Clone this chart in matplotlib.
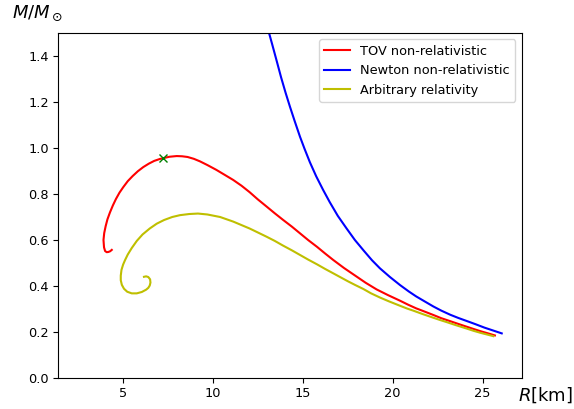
import matplotlib
matplotlib.use("Agg")
import matplotlib.pyplot as plt

# ---------------------------------------------------
# Mass-radius curves (R in km, M in solar masses)
# ---------------------------------------------------

tov_r = [4.39, 4.30, 4.20, 4.11, 4.02, 3.96, 3.93, 3.97, 4.05, 4.15, 4.29,
         4.45, 4.62, 4.82, 5.03, 5.28, 5.55, 5.84, 6.14, 6.45, 6.75, 7.05,
         7.26, 7.60, 8.00, 8.30, 8.60, 8.95, 9.29, 9.70, 10.20, 10.65, 11.14,
         11.60, 12.05, 12.50, 13.00, 13.45, 13.90, 14.40, 14.85, 15.30, 15.80,
         16.25, 16.70, 17.30, 17.90, 18.50, 19.11, 19.75, 20.41, 20.85, 21.30,
         21.80, 22.26, 22.70, 23.20, 23.65, 24.11, 24.50, 24.90, 25.30, 25.68]
tov_m = [0.557, 0.551, 0.548, 0.547, 0.552, 0.568, 0.600, 0.630, 0.660, 0.690,
         0.720, 0.750, 0.778, 0.806, 0.830, 0.856, 0.878, 0.899, 0.917, 0.932,
         0.944, 0.952, 0.956, 0.962, 0.965, 0.964, 0.961, 0.953, 0.942, 0.926,
         0.905, 0.884, 0.861, 0.836, 0.808, 0.777, 0.745, 0.716, 0.688, 0.658,
         0.629, 0.600, 0.570, 0.541, 0.513, 0.478, 0.446, 0.414, 0.385, 0.360,
         0.336, 0.319, 0.303, 0.288, 0.274, 0.260, 0.247, 0.235, 0.223, 0.213,
         0.203, 0.194, 0.185]

newton_r = [13.05, 13.13, 13.30, 13.56, 13.80, 14.05, 14.29, 14.55, 14.85,
            15.10, 15.40, 15.75, 16.14, 16.50, 16.95, 17.44, 17.90, 18.40,
            18.85, 19.29, 19.85, 20.41, 20.90, 21.30, 21.80, 22.26, 22.70,
            23.20, 23.65, 24.11, 24.60, 25.10, 25.60, 26.06]
newton_m = [1.535, 1.500, 1.452, 1.377, 1.307, 1.240, 1.180, 1.118, 1.049,
            0.997, 0.938, 0.877, 0.817, 0.765, 0.705, 0.650, 0.600, 0.553,
            0.512, 0.477, 0.439, 0.404, 0.376, 0.355, 0.332, 0.311, 0.293,
            0.275, 0.261, 0.248, 0.234, 0.219, 0.206, 0.194]

arb_r = [6.18, 6.30, 6.42, 6.52, 6.54, 6.50, 6.42, 6.30, 6.06, 5.78, 5.50,
         5.25, 5.07, 4.95, 4.89, 4.89, 4.93, 5.02, 5.13, 5.28, 5.50, 5.78,
         6.10, 6.50, 6.89, 7.30, 7.75, 8.18, 8.70, 9.18, 9.70, 10.41, 11.14,
         12.05, 12.50, 13.00, 13.45, 13.90, 14.40, 14.85, 15.30, 15.80, 16.25,
         16.70, 17.10, 17.50, 17.90, 18.37, 18.80, 19.29, 19.80, 20.41, 20.80,
         21.14, 21.70, 22.26, 22.60, 23.00, 23.50, 24.11, 24.50, 24.90, 25.25,
         25.59]
arb_m = [0.440, 0.442, 0.439, 0.429, 0.415, 0.402, 0.392, 0.384, 0.374, 0.368,
         0.368, 0.375, 0.388, 0.405, 0.425, 0.445, 0.470, 0.493, 0.513, 0.537,
         0.565, 0.596, 0.624, 0.650, 0.671, 0.687, 0.700, 0.708, 0.713, 0.715,
         0.711, 0.700, 0.680, 0.650, 0.633, 0.614, 0.596, 0.576, 0.555, 0.535,
         0.515, 0.494, 0.474, 0.455, 0.438, 0.421, 0.405, 0.387, 0.368, 0.350,
         0.333, 0.314, 0.302, 0.293, 0.277, 0.262, 0.253, 0.243, 0.230, 0.215,
         0.205, 0.196, 0.189, 0.182]

# most massive stable TOV configuration
max_r = 7.26
max_m = 0.955

# ---------------------------------------------------
# Plot
# ---------------------------------------------------

fig = plt.figure(figsize=(5.74, 4.09), dpi=100)
ax = fig.add_axes([0.1016, 0.0758, 0.8073, 0.8435])

ax.plot(tov_r, tov_m, color="r", linewidth=1.5, label="TOV non-relativistic")
ax.plot(newton_r, newton_m, color="b", linewidth=1.5, label="Newton non-relativistic")
ax.plot(arb_r, arb_m, color="y", linewidth=1.5, label="Arbitrary relativity")
ax.plot(max_r, max_m, marker="x", color="g", markersize=6, linestyle="none")

ax.set_xlim(1.42, 27.17)
ax.set_ylim(0.0, 1.5)
ax.set_xticks([5, 10, 15, 20, 25])
ax.set_yticks([0.0, 0.2, 0.4, 0.6, 0.8, 1.0, 1.2, 1.4])
ax.tick_params(labelsize=9.3, length=3.3)

ax.legend(loc="upper right", fontsize=9.3)

fig.text(0.066, 0.968, r"$M/M_\odot$", fontsize=13, ha="center", va="center")
fig.text(0.95, 0.034, r"$R$[km]", fontsize=13, ha="center", va="center")

fig.savefig("out.png", dpi=100)
plt.close(fig)
